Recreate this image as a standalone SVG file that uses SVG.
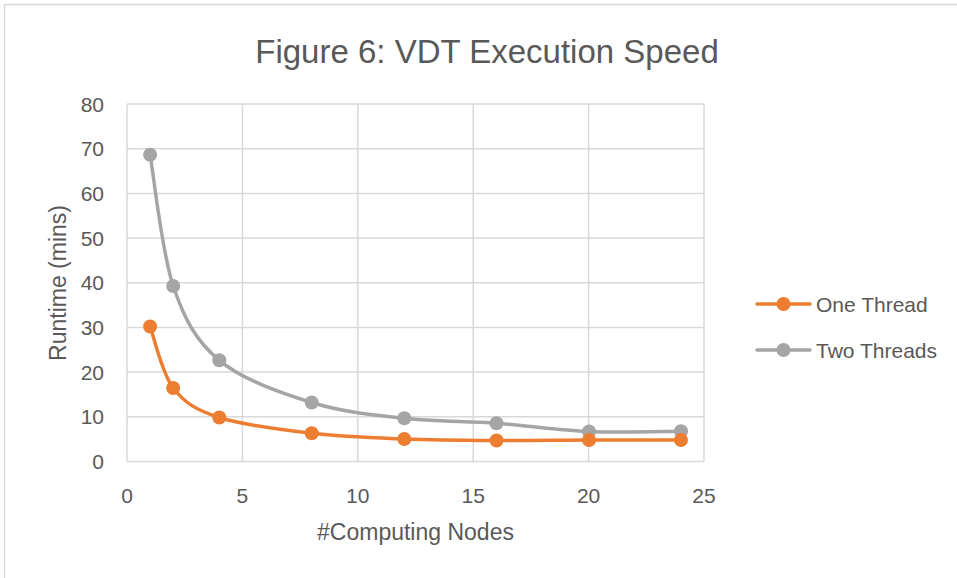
<svg xmlns="http://www.w3.org/2000/svg" width="957" height="578" viewBox="0 0 957 578">
  <style>
    text { font-family: "Liberation Sans", Arial, sans-serif; fill: #595959; }
    .title { font-size: 33px; text-anchor: middle; }
    .tick { font-size: 21px; }
    .ytick { text-anchor: end; }
    .xtick { text-anchor: middle; }
    .axis-title { font-size: 23px; text-anchor: middle; }
    .legend { font-size: 21px; }
    .grid { stroke: #D9D9D9; stroke-width: 1.5; fill: none; }
    .series { fill: none; stroke-width: 3.5; stroke-linecap: round; stroke-linejoin: round; }
    .one { stroke: #ED7D31; }
    .two { stroke: #A5A5A5; }
    .dot-one { fill: #ED7D31; }
    .dot-two { fill: #A5A5A5; }
  </style>
  <defs>
    <circle id="dot" r="7"/>
  </defs>

  <!-- chart frame -->
  <rect x="4.5" y="4.5" width="970" height="590" fill="#FFFFFF" stroke="#D9D9D9" stroke-width="1.5"/>

  <text class="title" x="487" y="63">Figure 6: VDT Execution Speed</text>

  <!-- gridlines -->
  <g id="grid">
    <path class="grid" d="M127 104H704M127 148.8H704M127 193.4H704M127 238.1H704M127 282.8H704M127 327.5H704M127 372.1H704M127 416.8H704M127 461.5H704"/>
    <path class="grid" d="M127 104V461.5M242.4 104V461.5M357.8 104V461.5M473.2 104V461.5M588.6 104V461.5M704 104V461.5"/>
  </g>

  <!-- y axis labels -->
  <g id="y-axis">
    <text class="tick ytick" x="104" y="469">0</text>
    <text class="tick ytick" x="104" y="424.3">10</text>
    <text class="tick ytick" x="104" y="379.6">20</text>
    <text class="tick ytick" x="104" y="335">30</text>
    <text class="tick ytick" x="104" y="290.3">40</text>
    <text class="tick ytick" x="104" y="245.6">50</text>
    <text class="tick ytick" x="104" y="200.9">60</text>
    <text class="tick ytick" x="104" y="156.3">70</text>
    <text class="tick ytick" x="104" y="111.5">80</text>
    <text class="axis-title" transform="translate(66 283) rotate(-90)">Runtime (mins)</text>
  </g>

  <!-- x axis labels -->
  <g id="x-axis">
    <text class="tick xtick" x="127" y="503">0</text>
    <text class="tick xtick" x="242.4" y="503">5</text>
    <text class="tick xtick" x="357.8" y="503">10</text>
    <text class="tick xtick" x="473.2" y="503">15</text>
    <text class="tick xtick" x="588.6" y="503">20</text>
    <text class="tick xtick" x="704" y="503">25</text>
    <text class="axis-title" x="415.5" y="540">#Computing Nodes</text>
  </g>

  <!-- data series (smoothed) -->
  <g id="connectors">
    <path id="series-two" class="series two" d="M150.1 154.7C153.95 176.6 161.67 251.73 173.2 286C184.73 320.27 196.22 340.88 219.3 360.3C242.38 379.72 280.87 392.83 311.7 402.5C342.53 412.17 373.5 414.83 404.3 418.3C435.1 421.77 465.72 421.1 496.5 423.3C527.28 425.5 558.25 430.17 589 431.5C619.75 432.83 665.67 431.33 681 431.3"/>
    <path id="series-one" class="series one" d="M150.1 326.5C153.95 336.75 161.67 372.83 173.2 388C184.73 403.17 196.22 409.95 219.3 417.5C242.38 425.05 280.87 429.72 311.7 433.3C342.53 436.88 373.5 437.8 404.3 439C435.1 440.2 465.72 440.33 496.5 440.5C527.28 440.67 558.25 440.08 589 440C619.75 439.92 665.67 440 681 440"/>
  </g>

  <g id="points-two" class="dot-two">
    <use href="#dot" x="150.1" y="154.7"/>
    <use href="#dot" x="173.2" y="286"/>
    <use href="#dot" x="219.3" y="360.3"/>
    <use href="#dot" x="311.7" y="402.5"/>
    <use href="#dot" x="404.3" y="418.3"/>
    <use href="#dot" x="496.5" y="423.3"/>
    <use href="#dot" x="589" y="431.5"/>
    <use href="#dot" x="681" y="431.3"/>
  </g>
  <g id="points-one" class="dot-one">
    <use href="#dot" x="150.1" y="326.5"/>
    <use href="#dot" x="173.2" y="388"/>
    <use href="#dot" x="219.3" y="417.5"/>
    <use href="#dot" x="311.7" y="433.3"/>
    <use href="#dot" x="404.3" y="439"/>
    <use href="#dot" x="496.5" y="440.5"/>
    <use href="#dot" x="589" y="440"/>
    <use href="#dot" x="681" y="440"/>
  </g>

  <!-- legend -->
  <g id="legend-one">
    <path class="series one" d="M757 304H810"/>
    <use href="#dot" class="dot-one" x="783.5" y="304"/>
    <text class="legend" x="816" y="311.5">One Thread</text>
  </g>
  <g id="legend-two">
    <path class="series two" d="M757 350H810"/>
    <use href="#dot" class="dot-two" x="783.5" y="350"/>
    <text class="legend" x="816" y="357.5">Two Threads</text>
  </g>
</svg>
